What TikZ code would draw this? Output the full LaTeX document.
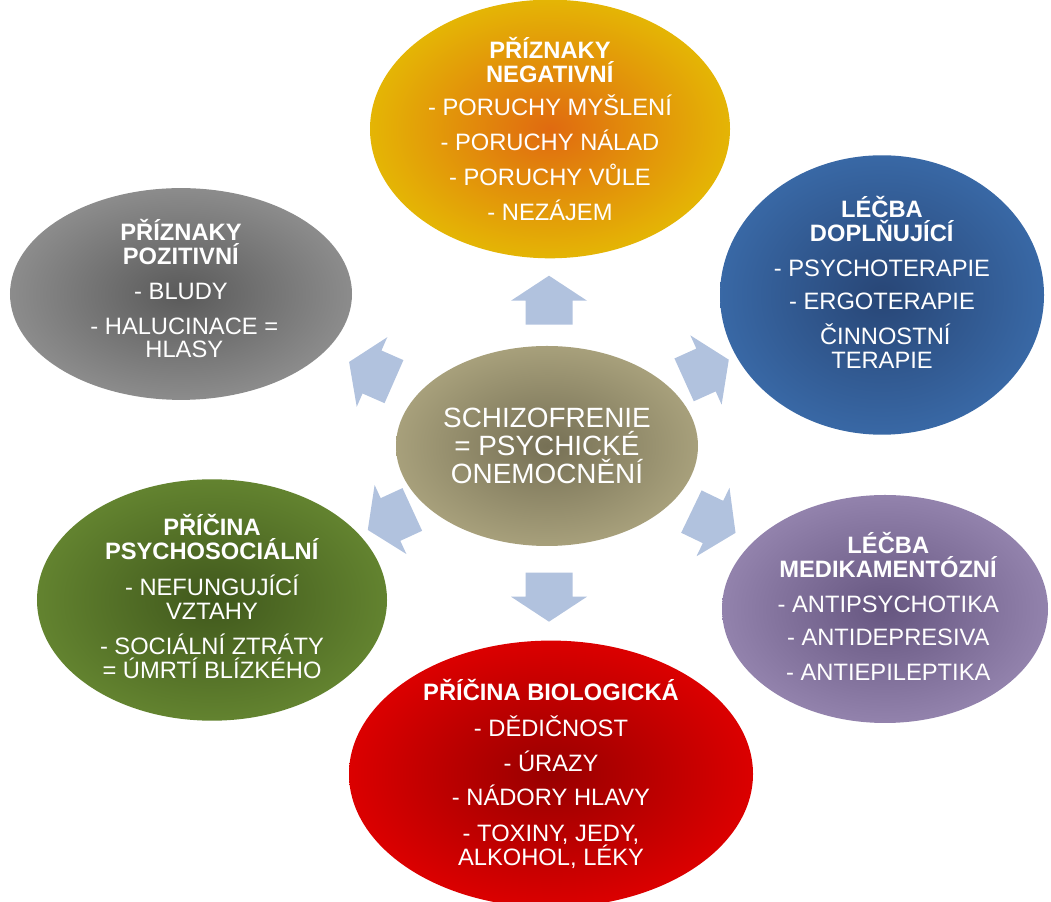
\documentclass[tikz,border=0pt]{standalone}
\usepackage{fontspec}
\setmainfont{Liberation Sans}
\usetikzlibrary{shapes.geometric}
\definecolor{yin}{HTML}{E06A10}\definecolor{yout}{HTML}{E6D600}
\definecolor{gin}{HTML}{5A5A5A}\definecolor{gout}{HTML}{A2A2A2}
\definecolor{bin}{HTML}{284676}\definecolor{bout}{HTML}{4077BA}
\definecolor{pin}{HTML}{665680}\definecolor{pout}{HTML}{A696C0}
\definecolor{ein}{HTML}{40581C}\definecolor{eout}{HTML}{729638}
\definecolor{rin}{HTML}{980000}\definecolor{rout}{HTML}{EE0000}
\definecolor{cin}{HTML}{767055}\definecolor{cout}{HTML}{BDB58C}
\definecolor{arrowcol}{HTML}{B1C2DE}
\pgfdeclareradialshading{shyellow}{\pgfpoint{0bp}{0bp}}{color(0bp)=(yin); color(36bp)=(yout); color(50bp)=(yout)}
\pgfdeclareradialshading{shgray}{\pgfpoint{0bp}{0bp}}{color(0bp)=(gin); color(36bp)=(gout); color(50bp)=(gout)}
\pgfdeclareradialshading{shblue}{\pgfpoint{0bp}{0bp}}{color(0bp)=(bin); color(36bp)=(bout); color(50bp)=(bout)}
\pgfdeclareradialshading{shpurple}{\pgfpoint{0bp}{0bp}}{color(0bp)=(pin); color(36bp)=(pout); color(50bp)=(pout)}
\pgfdeclareradialshading{shgreen}{\pgfpoint{0bp}{0bp}}{color(0bp)=(ein); color(36bp)=(eout); color(50bp)=(eout)}
\pgfdeclareradialshading{shred}{\pgfpoint{0bp}{0bp}}{color(0bp)=(rin); color(32bp)=(rout); color(50bp)=(rout)}
\pgfdeclareradialshading{shcenter}{\pgfpoint{0bp}{0bp}}{color(0bp)=(cin); color(36bp)=(cout); color(50bp)=(cout)}
\AtBeginDocument{\lineskiplimit=-30pt\relax}
\tikzset{
  bubble/.style={ellipse, inner sep=0pt, text=white, align=center,
    font=\fontsize{23.8}{24}\selectfont},
  hub/.style={ellipse, inner sep=0pt, text=white, align=center,
    font=\fontsize{28}{28.5}\selectfont},
  blockarrow/.pic={\fill[arrowcol] (25,0) -- (0,38) -- (0,23.5) -- (-24,23.5) -- (-24,-23.5) -- (0,-23.5) -- (0,-38) -- cycle;}
}
\begin{document}
\begin{tikzpicture}[x=1bp,y=1bp]
\useasboundingbox (0,0) rectangle (1051,902);
% outer bubbles
\node[bubble, shading=shyellow, minimum width=360bp, minimum height=242bp] (neg) at (550,773)
  {\textbf{PŘÍZNAKY}\\\textbf{NEGATIVNÍ}\\[9pt]- PORUCHY MYŠLENÍ\\[11pt]- PORUCHY NÁLAD\\[11pt]- PORUCHY VŮLE\\[11pt]- NEZÁJEM};
\node[bubble, shading=shgray, minimum width=342bp, minimum height=198bp] (poz) at (181,608)
  {\textbf{PŘÍZNAKY}\\\textbf{POZITIVNÍ}\\[11pt]- BLUDY\\[11pt]\ - HALUCINACE =\\\ HLASY\\[-13pt]\null};
\node[bubble, shading=shblue, minimum width=324bp, minimum height=234bp] (dopl) at (882,607)
  {\textbf{LÉČBA}\\\textbf{DOPLŇUJÍCÍ}\\[11pt]- PSYCHOTERAPIE\\[9pt]- ERGOTERAPIE\\[12pt]\ ČINNOSTNÍ\\TERAPIE\\[1pt]\null};
\node[bubble, shading=shpurple, minimum width=326bp, minimum height=228bp] (medi) at (885,293)
  {\ \textbf{LÉČBA}\\\ \textbf{MEDIKAMENTÓZNÍ}\\[11pt]\ - ANTIPSYCHOTIKA\\[9pt]\ - ANTIDEPRESIVA\\[11pt]\ - ANTIEPILEPTIKA\\[-19pt]\null};
\node[bubble, shading=shgreen, minimum width=350bp, minimum height=230bp] (psys) at (212,302)
  {\textbf{PŘÍČINA}\\\textbf{PSYCHOSOCIÁLNÍ}\\[12pt]- NEFUNGUJÍCÍ\\VZTAHY\\[11pt]- SOCIÁLNÍ ZTRÁTY\\= ÚMRTÍ BLÍZKÉHO\\[-17pt]\null};
\node[bubble, shading=shred, minimum width=404bp, minimum height=252bp] (bio) at (551,128)
  {\textbf{PŘÍČINA BIOLOGICKÁ}\\[12pt]- DĚDIČNOST\\[11pt]- ÚRAZY\\[10pt]- NÁDORY HLAVY\\[12pt]- TOXINY, JEDY,\\ALKOHOL, LÉKY};
% centre
\node[hub, shading=shcenter, minimum width=302bp, minimum height=200bp] (hub) at (547,456)
  {SCHIZOFRENIE\\= PSYCHICKÉ\\ONEMOCNĚNÍ};
% block arrows
\coordinate (aup) at (549,601.3);
\coordinate (adown) at (549,305.3);
\coordinate (aul) at (372,530);
\coordinate (aur) at (706,532);
\coordinate (all) at (390.5,382.5);
\coordinate (alr) at (713,380);
\pic[rotate=90] at (aup) {blockarrow};
\pic[rotate=-90] at (adown) {blockarrow};
\pic[rotate=156.3] at (aul) {blockarrow};
\pic[rotate=24.3] at (aur) {blockarrow};
\pic[rotate=204.7] at (all) {blockarrow};
\pic[rotate=-25.7] at (alr) {blockarrow};
\end{tikzpicture}
\end{document}
